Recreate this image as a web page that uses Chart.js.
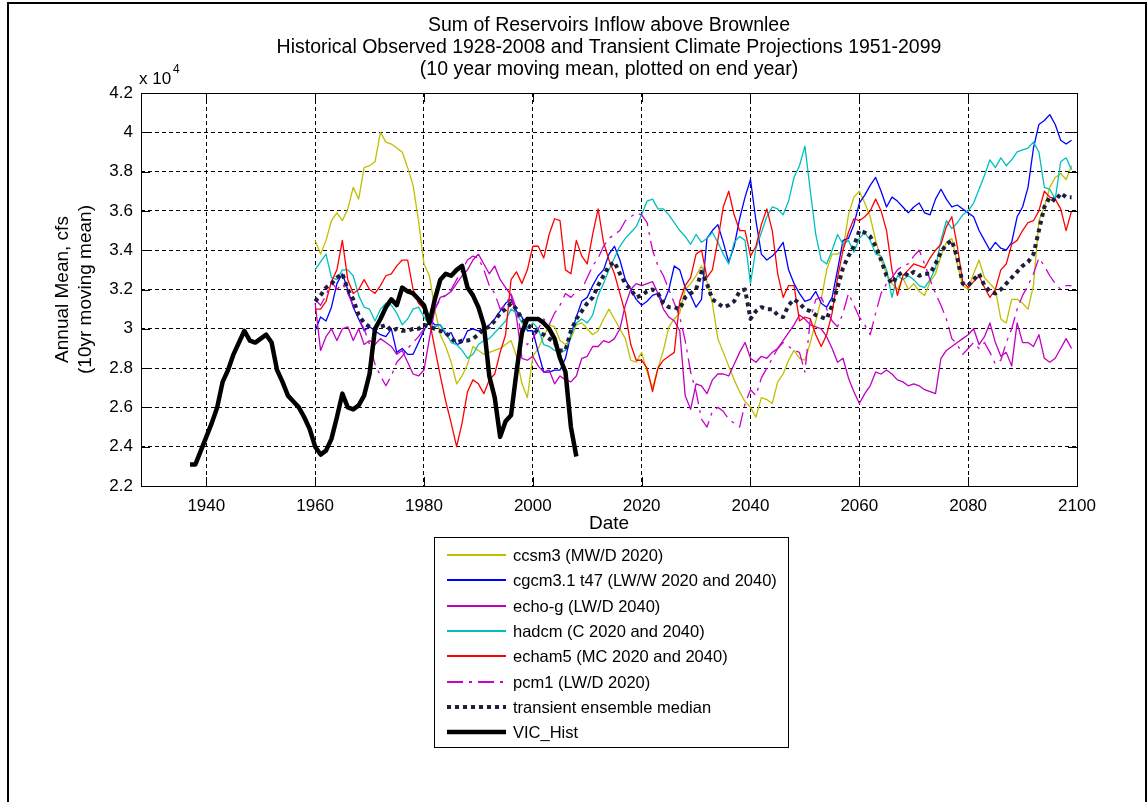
<!DOCTYPE html>
<html>
<head>
<meta charset="utf-8">
<script src="https://cdn.jsdelivr.net/npm/chart.js@4/dist/chart.umd.min.js"></script>
<style>
  html, body { margin: 0; padding: 0; background: #fff; }
  #wrap { width: 1148px; height: 802px; }
</style>
</head>
<body>
<div id="wrap"><canvas id="c" width="1148" height="802"></canvas></div>
<script>
// ---- text ----
const titleLines = [
  'Sum of Reservoirs Inflow above Brownlee',
  'Historical Observed 1928-2008 and Transient Climate Projections 1951-2099',
  '(10 year moving mean, plotted on end year)'
];
const xTitle = 'Date';
const yTitle = ['Annual Mean, cfs', '(10yr moving mean)'];
const xTicks = [1940, 1960, 1980, 2000, 2020, 2040, 2060, 2080, 2100];
const yTicks = [2.2, 2.4, 2.6, 2.8, 3.0, 3.2, 3.4, 3.6, 3.8, 4.0, 4.2];

// ---- data (x 10^4 cfs) ----
const histStart = 1937;
const vicHist = [
  2.31, 2.31, 2.38, 2.45, 2.52, 2.60, 2.73, 2.79, 2.87, 2.93,
  2.99, 2.94, 2.93, 2.95, 2.97, 2.93, 2.79, 2.73, 2.66, 2.63,
  2.60, 2.55, 2.49, 2.40, 2.36, 2.38, 2.44, 2.55, 2.67, 2.60,
  2.59, 2.61, 2.66, 2.77, 3.00, 3.05, 3.11, 3.15, 3.12, 3.21,
  3.19, 3.18, 3.15, 3.12, 3.03, 3.15, 3.25, 3.28, 3.27, 3.30,
  3.32, 3.21, 3.17, 3.11, 3.02, 2.76, 2.65, 2.45, 2.53, 2.56,
  2.78, 2.98, 3.05, 3.05, 3.05, 3.03, 3.00, 2.95, 2.85, 2.78,
  2.50, 2.35
];

const projStart = 1960;
const ccsm3 = [
  3.45, 3.38, 3.45, 3.55, 3.59, 3.55, 3.61, 3.72, 3.66, 3.82,
  3.83, 3.85, 4.00, 3.95, 3.94, 3.92, 3.90, 3.82, 3.73, 3.55,
  3.33, 3.27, 3.10, 2.97, 2.91, 2.83, 2.72, 2.76, 2.82, 2.91,
  2.89, 2.87, 2.88, 2.89, 2.90, 2.92, 2.94, 2.86, 2.72, 2.65,
  2.86, 2.90, 2.96, 3.02, 3.01, 2.94, 2.92, 2.95, 3.02, 3.03,
  3.00, 2.97, 2.99, 3.05, 3.10, 3.05, 3.00, 2.95, 2.84, 2.83,
  2.88, 2.78, 2.70, 2.80, 2.89, 3.01, 3.05, 3.08, 3.20, 3.23,
  3.27, 3.32, 3.24, 3.13, 2.95, 2.88, 2.81, 2.74, 2.68, 2.63,
  2.60, 2.55, 2.65, 2.64, 2.62, 2.73, 2.77, 2.84, 2.89, 2.85,
  2.84, 2.93, 3.04, 3.15, 3.30, 3.38, 3.38, 3.40, 3.58, 3.67,
  3.70, 3.64, 3.57, 3.45, 3.35, 3.28, 3.23, 3.20, 3.26, 3.20,
  3.23, 3.19, 3.17, 3.24, 3.28, 3.37, 3.44, 3.46, 3.33, 3.22,
  3.20, 3.28, 3.35, 3.26, 3.23, 3.20, 3.05, 3.03, 3.15, 3.15,
  3.13, 3.10, 3.22, 3.55, 3.62, 3.72, 3.77, 3.79, 3.76, 3.83
];
const cgcm31 = [
  2.99, 3.06, 3.04, 3.11, 3.23, 3.28, 3.20, 3.11, 3.05, 2.99,
  3.01, 2.99, 2.97, 2.96, 3.00, 2.88, 2.90, 2.87, 2.87, 2.93,
  2.99, 3.05, 3.02, 3.02, 2.97, 2.98, 2.92, 2.93, 2.99, 3.00,
  2.99, 3.00, 3.02, 3.05, 3.09, 3.13, 3.15, 3.09, 3.06, 2.99,
  2.99, 2.88, 2.78, 2.78, 2.79, 2.79, 2.85, 2.97, 3.06, 3.14,
  3.16, 3.22, 3.27, 3.30, 3.38, 3.42, 3.35, 3.25, 3.20, 3.15,
  3.12, 3.14, 3.17, 3.18, 3.13, 3.20, 3.32, 3.30, 3.21, 3.17,
  3.11, 3.15, 3.46, 3.50, 3.53, 3.44, 3.34, 3.42, 3.56, 3.67,
  3.76, 3.55, 3.38, 3.35, 3.37, 3.40, 3.44, 3.30, 3.23, 3.18,
  3.14, 3.15, 3.19, 3.13, 3.11, 3.16, 3.30, 3.45, 3.46, 3.53,
  3.64, 3.68, 3.73, 3.77, 3.70, 3.62, 3.67, 3.65, 3.62, 3.59,
  3.62, 3.64, 3.59, 3.58, 3.66, 3.71, 3.66, 3.62, 3.63, 3.61,
  3.59, 3.57, 3.50, 3.45, 3.40, 3.44, 3.41, 3.40, 3.44, 3.57,
  3.62, 3.72, 3.92, 4.04, 4.06, 4.09, 4.04, 3.96, 3.94, 3.96
];
const echoG = [
  3.13, 2.89, 2.96, 3.00, 2.94, 3.00, 3.01, 2.94, 3.00, 2.92,
  2.94, 2.92, 2.95, 2.93, 2.91, 2.87, 2.89, 2.83, 2.77, 2.76,
  2.79, 2.95, 3.10, 3.16, 3.17, 3.19, 3.23, 3.27, 3.30, 3.35,
  3.38, 3.33, 3.28, 3.32, 3.25, 3.21, 3.17, 3.06, 2.85, 2.84,
  2.86, 2.81, 2.78, 2.79, 2.72, 2.76, 2.74, 2.73, 2.76, 2.85,
  2.86, 2.91, 2.91, 2.94, 2.93, 2.95, 3.00, 3.12, 3.20, 3.23,
  3.22, 3.23, 3.24, 3.18, 3.10, 3.06, 3.04, 2.99, 2.66, 2.59,
  2.72, 2.71, 2.67, 2.74, 2.77, 2.77, 2.76, 2.82, 2.88, 2.93,
  2.85, 2.83, 2.86, 2.85, 2.88, 2.90, 2.94, 2.98, 3.02, 3.07,
  3.05, 3.02, 3.01, 3.00, 2.96, 2.90, 2.83, 2.85, 2.75, 2.68,
  2.62, 2.67, 2.71, 2.78, 2.77, 2.79, 2.77, 2.74, 2.73, 2.71,
  2.72, 2.71, 2.69, 2.68, 2.67, 2.85, 2.89, 2.91, 2.93, 2.95,
  2.97, 3.00, 2.92, 2.96, 3.03, 2.93, 2.86, 2.88, 2.81, 3.03,
  2.93, 2.93, 2.91, 2.97, 2.85, 2.83, 2.85, 2.90, 2.95, 2.90
];
const hadcm = [
  3.30, 3.34, 3.38, 3.26, 3.25, 3.30, 3.30, 3.27, 3.17, 3.11,
  3.10, 3.04, 3.10, 3.13, 3.12, 3.08, 3.02, 3.05, 3.10, 3.11,
  3.06, 3.02, 3.01, 3.02, 2.98, 2.93, 2.92, 2.89, 2.85, 2.87,
  2.92, 2.94, 2.95, 2.98, 3.01, 3.04, 3.10, 3.08, 3.03, 3.00,
  3.03, 3.00, 2.92, 2.91, 2.89, 2.88, 2.89, 2.97, 3.03, 3.05,
  3.03, 3.07, 3.17, 3.23, 3.30, 3.36, 3.42, 3.46, 3.49, 3.52,
  3.58, 3.65, 3.66, 3.61, 3.61, 3.58, 3.54, 3.50, 3.47, 3.43,
  3.48, 3.44, 3.46, 3.49, 3.44, 3.38, 3.33, 3.44, 3.47, 3.45,
  3.23, 3.41, 3.49, 3.57, 3.62, 3.61, 3.58, 3.65, 3.77, 3.83,
  3.93, 3.70, 3.48, 3.35, 3.33, 3.40, 3.48, 3.43, 3.45, 3.39,
  3.46, 3.49, 3.45, 3.38, 3.37, 3.30, 3.16, 3.27, 3.25, 3.27,
  3.25, 3.22, 3.21, 3.25, 3.31, 3.45, 3.55, 3.51, 3.54, 3.58,
  3.60, 3.64, 3.71, 3.78, 3.86, 3.82, 3.87, 3.83, 3.86, 3.90,
  3.91, 3.92, 3.95, 3.90, 3.72, 3.71, 3.66, 3.85, 3.87, 3.81
];
const echam5 = [
  3.10, 3.10, 3.14, 3.24, 3.30, 3.45, 3.25, 3.18, 3.20, 3.25,
  3.20, 3.18, 3.22, 3.27, 3.28, 3.32, 3.35, 3.35, 3.20, 3.13,
  3.10, 3.04, 2.90, 2.76, 2.63, 2.52, 2.40, 2.52, 2.68, 2.74,
  2.72, 2.67, 2.74, 2.77, 2.88, 2.97, 3.25, 3.29, 3.23, 3.30,
  3.42, 3.42, 3.36, 3.48, 3.56, 3.55, 3.30, 3.28, 3.45, 3.37,
  3.33, 3.48, 3.61, 3.44, 3.35, 3.28, 3.18, 3.08, 2.92, 2.84,
  2.84, 2.80, 2.68, 2.80, 2.84, 2.86, 2.88, 3.14, 3.22, 3.26,
  3.38, 3.40, 3.26, 3.30, 3.45, 3.62, 3.70, 3.58, 3.50, 3.50,
  3.37, 3.42, 3.53, 3.61, 3.50, 3.28, 3.16, 3.22, 3.22, 3.04,
  3.06, 3.05, 2.97, 2.91, 2.97, 3.08, 3.26, 3.40, 3.49, 3.56,
  3.55, 3.57, 3.60, 3.66, 3.60, 3.50, 3.30, 3.17, 3.27, 3.30,
  3.33, 3.32, 3.31, 3.36, 3.40, 3.43, 3.52, 3.57, 3.42, 3.24,
  3.21, 3.24, 3.27, 3.21, 3.16, 3.20, 3.30, 3.33, 3.43, 3.45,
  3.50, 3.54, 3.55, 3.60, 3.70, 3.67, 3.66, 3.61, 3.50, 3.60
];
const pcm1 = [
  3.15, 3.12, 3.17, 3.24, 3.20, 3.23, 3.18, 3.12, 3.05, 3.00,
  2.92, 2.82, 2.76, 2.71, 2.76, 2.83, 2.86, 2.90, 2.93, 2.96,
  3.00, 3.03, 3.10, 3.15, 3.17, 3.20, 3.25, 3.30, 3.35, 3.37,
  3.36, 3.30, 3.22, 3.18, 3.10, 3.12, 3.18, 3.10, 2.95, 2.92,
  2.95, 3.00, 3.05, 3.02, 3.08, 3.12, 3.18, 3.16, 3.19, 3.20,
  3.26, 3.32, 3.36, 3.42, 3.46, 3.48, 3.50, 3.55, 3.57, 3.59,
  3.58, 3.54, 3.40, 3.32, 3.27, 3.20, 3.13, 3.06, 2.94, 2.78,
  2.68, 2.54, 2.50, 2.58, 2.60, 2.58, 2.54, 2.52, 2.50, 2.62,
  2.69, 2.66, 2.75, 2.80, 2.85, 2.90, 2.93, 2.91, 2.89, 2.88,
  2.78, 3.05, 3.15, 3.16, 3.10, 3.04, 3.01, 3.08, 3.18, 3.12,
  3.06, 3.02, 2.97, 3.08, 3.18, 3.23, 3.26, 3.30, 3.32, 3.33,
  3.37, 3.40, 3.33, 3.25, 3.18, 3.12, 3.05, 2.95, 2.92, 2.87,
  2.90, 2.93, 2.90, 2.93, 2.88, 2.82, 2.84, 2.93, 3.00, 3.10,
  3.17, 3.22, 3.28, 3.36, 3.32, 3.27, 3.23, 3.20, 3.22, 3.22
];
const ensMedian = [
  3.14, 3.17, 3.21, 3.23, 3.26, 3.28, 3.20, 3.15, 3.07, 3.03,
  3.01, 3.00, 3.01, 3.02, 2.99, 3.00, 2.99, 2.99, 3.00, 3.00,
  3.02, 3.01, 3.00, 2.99, 2.98, 2.95, 2.93, 2.94, 2.94, 2.95,
  2.97, 3.00, 3.01, 3.04, 3.08, 3.10, 3.13, 3.10, 3.05, 3.02,
  3.00, 2.98, 2.97, 2.95, 2.93, 2.89, 2.89, 2.99, 3.05, 3.09,
  3.13, 3.16, 3.22, 3.27, 3.32, 3.34, 3.28, 3.23, 3.20, 3.16,
  3.17, 3.19, 3.20, 3.18, 3.13, 3.11, 3.11, 3.10, 3.16, 3.18,
  3.20, 3.29, 3.23, 3.15, 3.13, 3.11, 3.12, 3.14, 3.19, 3.20,
  3.05, 3.09, 3.11, 3.10, 3.10, 3.07, 3.06, 3.12, 3.15, 3.13,
  3.10, 3.09, 3.07, 3.06, 3.05, 3.12, 3.21, 3.31, 3.37, 3.42,
  3.50, 3.49, 3.47, 3.42, 3.35, 3.27, 3.23, 3.27, 3.29, 3.27,
  3.29, 3.27, 3.28, 3.28, 3.33, 3.39, 3.43, 3.45, 3.36, 3.23,
  3.22, 3.25, 3.28, 3.22, 3.19, 3.18, 3.20, 3.23, 3.26, 3.29,
  3.32, 3.34, 3.38, 3.50, 3.62, 3.67, 3.65, 3.69, 3.67, 3.67
];

const toPoints = (start, arr) => arr.map((v, i) => ({ x: start + i, y: v }));

const FONT = "'Liberation Sans', Arial, Helvetica, sans-serif";

const series = [
  { label: 'ccsm3 (MW/D 2020)', data: ccsm3, color: 'rgb(191,191,0)', width: 1.3, dash: [] },
  { label: 'cgcm3.1 t47 (LW/W 2020 and 2040)', data: cgcm31, color: 'rgb(0,0,255)', width: 1.3, dash: [] },
  { label: 'echo-g (LW/D 2040)', data: echoG, color: 'rgb(191,0,191)', width: 1.3, dash: [] },
  { label: 'hadcm (C 2020 and 2040)', data: hadcm, color: 'rgb(0,191,191)', width: 1.3, dash: [] },
  { label: 'echam5 (MC 2020 and 2040)', data: echam5, color: 'rgb(255,0,0)', width: 1.3, dash: [] },
  { label: 'pcm1 (LW/D 2020)', data: pcm1, color: 'rgb(204,0,204)', width: 1.3, dash: [16, 6, 3, 6] },
  { label: 'transient ensemble median', data: ensMedian, color: 'rgb(30,30,60)', width: 4, dash: [4, 4] },
  { label: 'VIC_Hist', data: vicHist, start: histStart, color: '#000', width: 4.5, dash: [] }
];

const datasets = series.map((s, i) => ({
  label: s.label,
  data: toPoints(s.start || projStart, s.data),
  borderColor: s.color,
  backgroundColor: s.color,
  borderWidth: s.width,
  borderDash: s.dash,
  borderCapStyle: 'butt',
  borderJoinStyle: 'round',
  pointRadius: 0,
  tension: 0,
  fill: false,
  order: series.length - i
}));

const AREA = { left: 141, top: 93, right: 1077, bottom: 486 };

const deco = {
  id: 'deco',
  beforeDraw(chart) {
    const ctx = chart.ctx;
    ctx.save();
    ctx.fillStyle = '#fff';
    ctx.fillRect(0, 0, chart.width, chart.height);
    ctx.restore();
  },
  afterDraw(chart) {
    const ctx = chart.ctx;
    const xs = chart.scales.x, ys = chart.scales.y;
    const a = chart.chartArea;
    ctx.save();
    ctx.setLineDash([]);
    ctx.strokeStyle = '#000';
    ctx.lineWidth = 1;

    // axes box
    ctx.strokeRect(Math.round(a.left) + 0.5, Math.round(a.top) + 0.5,
      Math.round(a.right - a.left), Math.round(a.bottom - a.top));

    // inward tick marks
    const tl = 9;
    ctx.beginPath();
    xTicks.forEach(v => {
      const px = Math.round(xs.getPixelForValue(v)) + 0.5;
      ctx.moveTo(px, a.bottom); ctx.lineTo(px, a.bottom - tl);
      ctx.moveTo(px, a.top); ctx.lineTo(px, a.top + tl);
    });
    yTicks.forEach(v => {
      const py = Math.round(ys.getPixelForValue(v)) + 0.5;
      ctx.moveTo(a.left, py); ctx.lineTo(a.left + tl, py);
      ctx.moveTo(a.right, py); ctx.lineTo(a.right - tl, py);
    });
    ctx.stroke();

    ctx.fillStyle = '#000';
    ctx.font = '17px ' + FONT;

    // x tick labels
    ctx.textAlign = 'center';
    ctx.textBaseline = 'middle';
    xTicks.forEach(v => ctx.fillText(String(v), xs.getPixelForValue(v), 506));
    // y tick labels
    ctx.textAlign = 'right';
    yTicks.forEach(v => ctx.fillText(String(+v.toFixed(1)), 133, ys.getPixelForValue(v)));

    // exponent
    ctx.textAlign = 'left';
    ctx.fillText('x 10', 139, 79);
    ctx.font = '12px ' + FONT;
    ctx.fillText('4', 173, 70);

    // axis titles
    ctx.font = '19px ' + FONT;
    ctx.textAlign = 'center';
    ctx.fillText(xTitle, (a.left + a.right) / 2, 524);
    const cy = (a.top + a.bottom) / 2;
    ctx.save();
    ctx.translate(63, cy);
    ctx.rotate(-Math.PI / 2);
    ctx.fillText(yTitle[0], 0, 0);
    ctx.restore();
    ctx.save();
    ctx.translate(86, cy);
    ctx.rotate(-Math.PI / 2);
    ctx.fillText(yTitle[1], 0, 0);
    ctx.restore();

    // title
    ctx.font = '19.5px ' + FONT;
    const cx = (a.left + a.right) / 2;
    titleLines.forEach((t, i) => ctx.fillText(t, cx, 26 + i * 22));

    // legend
    const lx = 434, ly = 537, lw = 354, lh = 210;
    ctx.fillStyle = '#fff';
    ctx.fillRect(lx, ly, lw, lh);
    ctx.strokeStyle = '#000';
    ctx.lineWidth = 1;
    ctx.strokeRect(lx + 0.5, ly + 0.5, lw, lh);
    ctx.font = '16.5px ' + FONT;
    ctx.textAlign = 'left';
    ctx.fillStyle = '#000';
    series.forEach((s, i) => {
      const y = Math.round(555 + i * 25.3);
      ctx.save();
      ctx.strokeStyle = s.color;
      ctx.lineWidth = s.width < 2 ? 2 : s.width;
      ctx.lineCap = 'butt';
      ctx.setLineDash(s.dash);
      ctx.beginPath();
      ctx.moveTo(447, y);
      ctx.lineTo(506, y);
      ctx.stroke();
      ctx.restore();
      ctx.fillText(s.label, 513, y + 1);
    });

    // figure frame
    ctx.strokeStyle = '#000';
    ctx.lineWidth = 2;
    ctx.beginPath();
    ctx.moveTo(8, 802); ctx.lineTo(8, 3); ctx.lineTo(1146, 3); ctx.lineTo(1146, 802);
    ctx.stroke();
    ctx.restore();
  }
};

new Chart(document.getElementById('c'), {
  type: 'line',
  data: { datasets: datasets },
  options: {
    responsive: false,
    animation: false,
    events: [],
    layout: { padding: { left: 0, top: AREA.top, right: 1148 - AREA.right, bottom: 0 } },
    plugins: { legend: { display: false }, tooltip: { enabled: false }, title: { display: false } },
    scales: {
      x: {
        type: 'linear',
        min: 1928,
        max: 2100,
        afterBuildTicks: s => { s.ticks = xTicks.map(v => ({ value: v })); },
        afterFit: s => { s.height = 802 - AREA.bottom; },
        ticks: { display: false },
        grid: { color: '#000', lineWidth: 1, drawTicks: false },
        border: { display: false, dash: [4, 3] }
      },
      y: {
        type: 'linear',
        min: 2.2,
        max: 4.2,
        afterBuildTicks: s => { s.ticks = yTicks.map(v => ({ value: v })); },
        afterFit: s => { s.width = AREA.left; },
        ticks: { display: false },
        grid: { color: '#000', lineWidth: 1, drawTicks: false },
        border: { display: false, dash: [4, 3] }
      }
    }
  },
  plugins: [deco]
});
</script>
</body>
</html>
